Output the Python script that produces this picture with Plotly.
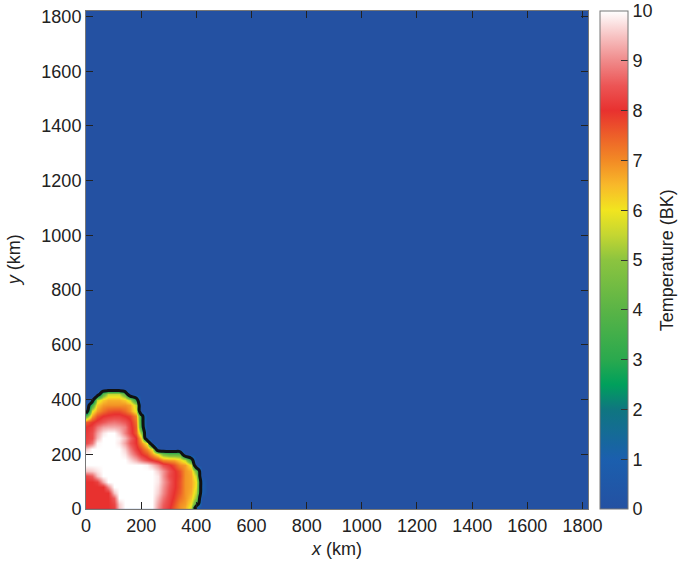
import plotly.graph_objects as go

# grid nodes (km) of the hot region in the lower-left corner; elsewhere T = 0
x_km = [0, 20, 40, 60, 80, 100, 120, 140, 160, 180, 200, 220,
        240, 260, 280, 300, 320, 340, 360, 380, 400, 420, 440]
y_km = [0, 20, 40, 60, 80, 100, 120, 140, 160, 180, 200, 220,
        240, 260, 280, 300, 320, 340, 360, 380, 400, 420, 440]

# temperature (BK) read row by row, one list per y value
t440 = [0, 0, 0, 0, 0, 0, 0, 0, 0, 0, 0, 0, 0, 0, 0, 0, 0, 0, 0, 0, 0, 0, 0]
t420 = [0, 0, 0, 4, 5.5, 5.5, 5.5, 4, 0, 0, 0, 0, 0, 0, 0, 0, 0, 0, 0, 0, 0, 0, 0]
t400 = [0, 0, 5.5, 6.3, 6.6, 6.6, 6.6, 6.3, 5.5, 3, 0, 0, 0, 0, 0, 0, 0, 0, 0, 0, 0, 0, 0]
t380 = [0, 3.5, 6.3, 6.8, 6.9, 6.9, 6.9, 6.9, 6.7, 5.5, 0, 0, 0, 0, 0, 0, 0, 0, 0, 0, 0, 0, 0]
t360 = [0, 5.8, 6.8, 7.3, 7.6, 7.7, 7.7, 7.4, 6.9, 5.8, 0, 0, 0, 0, 0, 0, 0, 0, 0, 0, 0, 0, 0]
t340 = [4, 6.7, 7.6, 8, 8.1, 8.2, 8.2, 8, 7.8, 7, 2.8, 0, 0, 0, 0, 0, 0, 0, 0, 0, 0, 0, 0]
t320 = [7.5, 7.9, 8.2, 8.5, 8.7, 8.8, 8.7, 8.5, 8.1, 7.3, 3, 0, 0, 0, 0, 0, 0, 0, 0, 0, 0, 0, 0]
t300 = [8, 8.2, 8.8, 9.2, 9.3, 9.3, 9.2, 8.9, 8.2, 7.5, 3.2, 0, 0, 0, 0, 0, 0, 0, 0, 0, 0, 0, 0]
t280 = [8.1, 8.4, 9.2, 9.8, 10, 10, 9.6, 8.9, 8.3, 7.5, 5, 0, 0, 0, 0, 0, 0, 0, 0, 0, 0, 0, 0]
t260 = [8.2, 8.4, 9.4, 10, 10, 10, 9.9, 9.4, 8.7, 8, 6.4, 0, 0, 0, 0, 0, 0, 0, 0, 0, 0, 0, 0]
t240 = [8.3, 8.8, 9.9, 10, 10, 10, 9.8, 9.2, 8.5, 8, 7, 5.8, 0, 0, 0, 0, 0, 0, 0, 0, 0, 0, 0]
t220 = [9.5, 10, 10, 10, 10, 10, 10, 9.6, 8.9, 8.2, 7.7, 6.9, 6, 0, 0, 0, 0, 0, 0, 0, 0, 0, 0]
t200 = [10, 10, 10, 10, 10, 10, 10, 9.8, 9.2, 8.6, 8, 7.6, 6.8, 5.8, 4.5, 4, 4, 4, 0, 0, 0, 0, 0]
t180 = [10, 10, 10, 10, 10, 10, 10, 10, 9.7, 9.3, 8.8, 8.3, 8, 7.6, 7, 6.8, 6.7, 6.2, 5.5, 3, 0, 0, 0]
t160 = [10, 10, 10, 10, 10, 10, 10, 10, 10, 10, 10, 9.9, 9.5, 9, 8.4, 8.1, 7.7, 7, 6.8, 5.8, 0, 0, 0]
t140 = [9.5, 9.6, 9.8, 10, 10, 10, 10, 10, 10, 10, 10, 10, 10, 9.6, 9.1, 8.5, 8.1, 7.6, 6.9, 6.6, 4.5, 0, 0]
t120 = [8.3, 8.6, 9.5, 10, 10, 10, 10, 10, 10, 10, 10, 10, 10, 9.8, 9.1, 8.4, 8.1, 7.7, 6.9, 6.7, 5.5, 0, 0]
t100 = [8, 8, 8.2, 9.3, 10, 10, 10, 10, 10, 10, 10, 10, 10, 9.8, 9.2, 8.6, 8.1, 7.6, 6.9, 6.7, 6, 1, 0]
t80 = [8, 8, 8, 8, 9, 10, 10, 10, 10, 10, 10, 10, 10, 9.7, 9.1, 8.5, 8.1, 7.6, 6.9, 6.7, 5.9, 1, 0]
t60 = [8, 8, 8, 8, 8, 9.5, 10, 10, 10, 10, 10, 10, 10, 9.6, 9, 8.4, 8, 7.5, 6.9, 6.6, 5.5, 1, 0]
t40 = [8, 8, 8, 8, 8, 8.6, 10, 10, 10, 10, 10, 10, 10, 9.4, 8.8, 8.3, 7.9, 7.3, 6.9, 6.4, 5, 0, 0]
t20 = [8, 8, 8, 8, 8, 8.3, 9.6, 10, 10, 10, 10, 10, 10, 9.2, 8.6, 8.2, 7.7, 7, 6.8, 6, 3.5, 0, 0]
t0 = [8, 8, 8, 8, 8, 8.2, 9.5, 10, 10, 10, 10, 10, 10, 9.1, 8.5, 8.1, 7.5, 6.9, 6.6, 5.5, 0, 0, 0]

temp = [t0, t20, t40, t60, t80, t100, t120, t140, t160, t180, t200, t220,
        t240, t260, t280, t300, t320, t340, t360, t380, t400, t420, t440]

axis_ticks = [0, 200, 400, 600, 800, 1000, 1200, 1400, 1600, 1800]
cbar_ticks = [0, 1, 2, 3, 4, 5, 6, 7, 8, 9, 10]

# colour map
cs_vals = [0, 1, 2, 2.5, 3, 4, 5, 5.5, 6, 6.5, 7, 7.5, 8, 8.5, 9, 9.5, 10]
cs_cols = ["#2451a2", "#1b5fae", "#0f7680", "#00a05c", "#2aa94e", "#5ab446",
           "#8cc43f", "#c4d632", "#f1e51f", "#f8b92a", "#f28a25", "#ed5f29",
           "#e8312f", "#ec5555", "#f08a8a", "#f7c3c3", "#ffffff"]
colorscale = [[v / 10, c] for v, c in zip(cs_vals, cs_cols)]

FONT = "Liberation Sans, Arial, sans-serif"
FS = 18

fig = go.Figure()
fig.add_trace(go.Heatmap(
    x=x_km, y=y_km, z=temp, zmin=0, zmax=10, zsmooth="best",
    colorscale=colorscale,
    colorbar=dict(
        x=1.024, xanchor="left", xpad=0, y=0.5, len=1, ypad=0,
        thickness=28, outlinewidth=1, outlinecolor="#777",
        tickvals=cbar_ticks, ticks="inside", ticklen=7, tickcolor="#333",
        ticklabeloverflow="allow",
        tickfont=dict(size=FS, color="#222"),
    ),
))
fig.add_trace(go.Contour(
    x=x_km, y=y_km, z=temp, showscale=False, hoverinfo="skip",
    contours=dict(start=2, end=2, size=1, coloring="none"),
    line=dict(color="#111", width=3, smoothing=1),
))

axis_style = dict(
    range=[0, 1820], tickvals=axis_ticks, ticks="inside", ticklen=7,
    tickcolor="#222", showline=True, mirror="ticks", linecolor="#777",
    linewidth=1, showgrid=False, zeroline=False, automargin=False,
    ticklabeloverflow="allow",
    tickfont=dict(size=FS, color="#222"),
)
fig.update_xaxes(**axis_style, title=dict(text="<i>x</i> (km)", font=dict(size=FS), standoff=7))
fig.update_yaxes(**axis_style)

# y title and colour bar title as annotations so they sit where the original has them
fig.add_annotation(
    text="<i>y</i> (km)", textangle=-90, showarrow=False,
    xref="paper", yref="paper", x=-0.143, y=0.5, xanchor="center", yanchor="middle",
    font=dict(size=FS, color="#222"),
)
fig.add_annotation(
    text="Temperature (BK)", textangle=-90, showarrow=False,
    xref="paper", yref="paper", x=1.158, y=0.5, xanchor="center", yanchor="middle",
    font=dict(size=FS, color="#222"),
)

fig.update_layout(
    width=679, height=565,
    margin=dict(l=86, r=91, t=11, b=56, autoexpand=False),
    plot_bgcolor="#2451a2", paper_bgcolor="white",
    font=dict(family=FONT, color="#222"),
    showlegend=False,
)

# the page's default 8px body margin would shift the whole figure
fig.write_html("out.html", config={"displayModeBar": False},
               post_script="document.body.style.margin = '0';")
